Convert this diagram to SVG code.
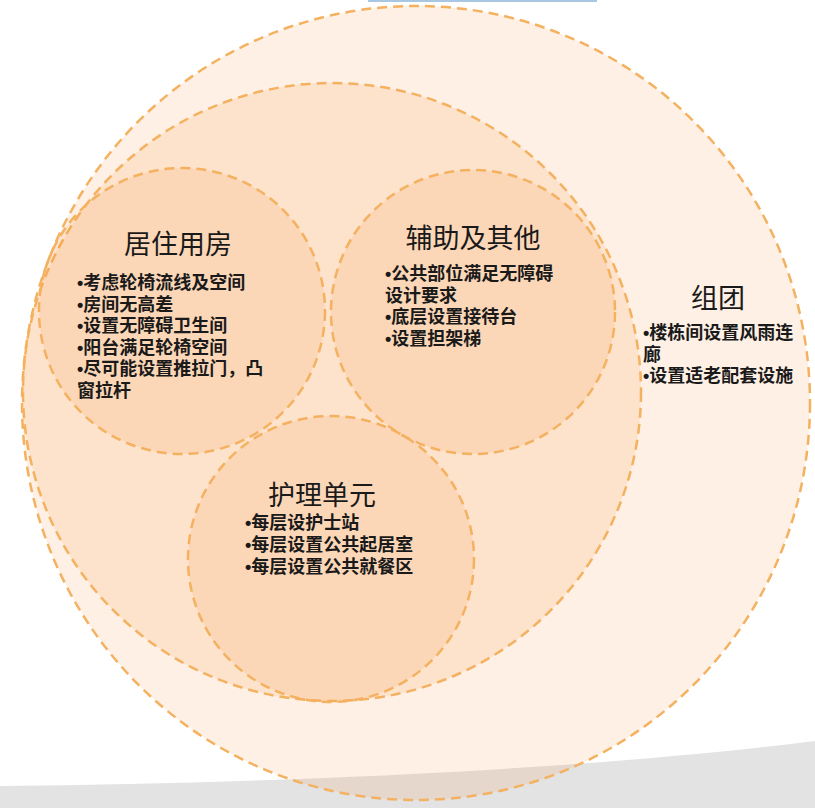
<svg xmlns="http://www.w3.org/2000/svg" width="815" height="808" viewBox="0 0 815 808">
  <style>
    .c { fill: #f88e30; fill-opacity: 0.13; stroke: #f4b160; stroke-width: 2.5; stroke-dasharray: 10 6; }
    .t { font-family: "Noto Sans CJK SC", "Liberation Sans", sans-serif; font-size: 27px; fill: #1a1a1a; text-anchor: middle; }
    .b { font-family: "Liberation Sans", "Noto Sans CJK SC", sans-serif; font-size: 18px; font-weight: bold; fill: #1a1a1a; }
  </style>
  <rect width="815" height="808" fill="#ffffff"/>
  <path d="M0,786 C300,783 600,768 815,741 L815,808 L0,808 Z" fill="#e3e3e3"/>
  <rect x="368" y="0" width="229" height="2" fill="#a9c6e3"/>

  <g id="zutuan">
    <ellipse class="c" cx="416" cy="403" rx="394" ry="397"/>
    <text class="t" x="718" y="308">组团</text>
    <text class="b" x="643" y="339">•楼栋间设置风雨连</text>
    <text class="b" x="643" y="360.5">廊</text>
    <text class="b" x="643" y="382">•设置适老配套设施</text>
  </g>

  <g id="inner">
    <circle class="c" cx="332" cy="392" r="309"/>
  </g>

  <g id="juzhu">
    <circle class="c" cx="182" cy="311" r="143"/>
    <text class="t" x="178" y="254">居住用房</text>
    <text class="b" x="77" y="289">•考虑轮椅流线及空间</text>
    <text class="b" x="77" y="310.5">•房间无高差</text>
    <text class="b" x="77" y="332">•设置无障碍卫生间</text>
    <text class="b" x="77" y="353.5">•阳台满足轮椅空间</text>
    <text class="b" x="77" y="375">•尽可能设置推拉门，凸</text>
    <text class="b" x="77" y="396.5">窗拉杆</text>
  </g>

  <g id="fuzhu">
    <circle class="c" cx="473" cy="312" r="142"/>
    <text class="t" x="473" y="248">辅助及其他</text>
    <text class="b" x="385" y="280">•公共部位满足无障碍</text>
    <text class="b" x="385" y="301.5">设计要求</text>
    <text class="b" x="385" y="323">•底层设置接待台</text>
    <text class="b" x="385" y="344.5">•设置担架梯</text>
  </g>

  <g id="huli">
    <circle class="c" cx="331" cy="559" r="143"/>
    <text class="t" x="322" y="505">护理单元</text>
    <text class="b" x="245" y="529">•每层设护士站</text>
    <text class="b" x="245" y="551">•每层设置公共起居室</text>
    <text class="b" x="245" y="573">•每层设置公共就餐区</text>
  </g>

  <g id="connectors"></g>
</svg>
